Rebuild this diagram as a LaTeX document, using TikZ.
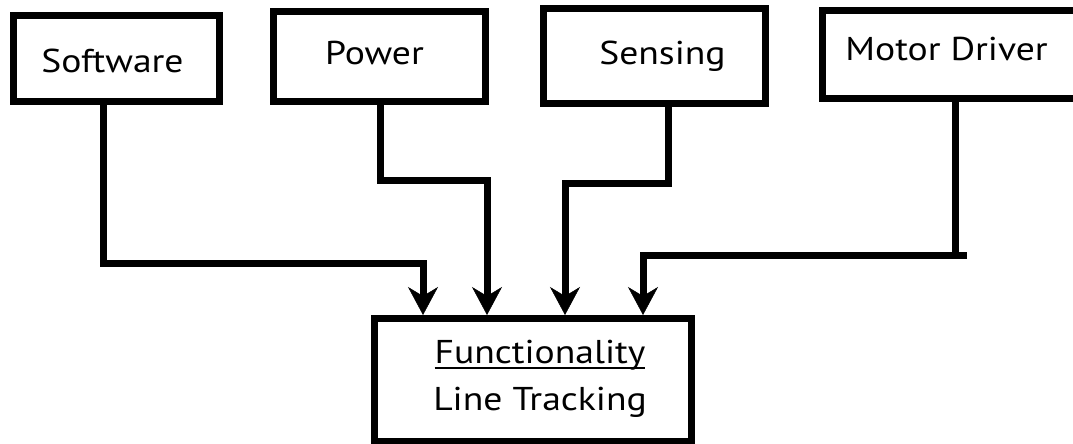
\documentclass[tikz,border=0pt]{standalone}
\usepackage{fontspec}
\setmainfont{PT Sans}[FakeStretch=1.14]
\usetikzlibrary{arrows.meta}
% underline set a little below the baseline, with a firm rule
\newcommand\ulword[1]{\setbox0=\hbox{#1}\rlap{\rule[-5.5pt]{\wd0}{1.8pt}}\box0}

\begin{document}
\begin{tikzpicture}[x=1pt,y=-1pt,
  block/.style={draw, line width=7pt, inner sep=0pt, outer sep=0pt},
  caption/.style={anchor=base, inner sep=0pt, font=\fontsize{33}{40}\selectfont},
  wire/.style={line width=7pt},
  conn/.style={wire, -{Stealth[length=28pt,width=30pt,inset=9pt,line width=0.5pt]}}]
\useasboundingbox (0,0) rectangle (1073,444);

% source blocks
\node[block, minimum width=206pt, minimum height=86pt] (sw) at (116.5,58.5) {};
\node[block, minimum width=212pt, minimum height=90pt] (pw) at (379.5,56.5) {};
\node[block, minimum width=222pt, minimum height=95pt] (sn) at (654.5,56) {};
\node[block, minimum width=257.5pt, minimum height=88pt] (md) at (951.25,54.5) {};

% target block
\node[block, minimum width=317pt, minimum height=123pt] (fn) at (533,380) {};

% captions
\node[caption] (swt) at (112.5,72) {Software};
\node[caption] (pwt) at (374.5,65) {Power};
\node[caption] (snt) at (662.5,65) {Sensing};
\node[caption] (mdt) at (946.5,60) {Motor Driver};
\node[caption] (fnt) at (540,363) {\ulword{Functionality}};
\node[caption] (lnt) at (540,410) {Line Tracking};

% connectors
\draw[conn] ([xshift=89.5pt]sw.south west) -- ++(0,161.5)
  -| ([xshift=48.5pt,yshift=3.5pt]fn.north west);
\draw[conn] ([xshift=106.5pt]pw.south west) -- ++(0,78.5)
  -| ([xshift=112.5pt,yshift=3.5pt]fn.north west);
\draw[conn] ([xshift=124.5pt]sn.south west) -- ++(0,79.5)
  -| ([xshift=190.5pt,yshift=3.5pt]fn.north west);
\coordinate (mdjog) at (967,255);
\draw[wire] ([xshift=132.5pt]md.south west) -- ([xshift=132.5pt]md.south west |- mdjog);
\draw[conn] (mdjog) -| ([xshift=268.5pt,yshift=3.5pt]fn.north west);
\end{tikzpicture}
\end{document}
